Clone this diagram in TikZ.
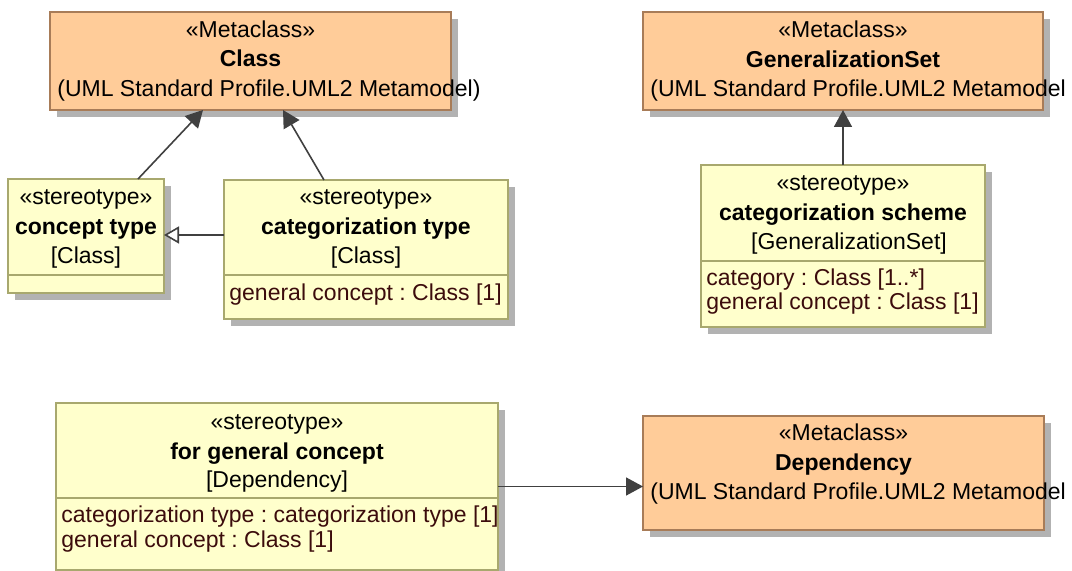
\documentclass[tikz,border=0pt]{standalone}
\usepackage{fontspec}
\setmainfont{Liberation Sans}
\frenchspacing
\usetikzlibrary{calc,positioning,arrows.meta,shadows}
\definecolor{MetaOrange}{RGB}{255,204,153}
\definecolor{MetaBorder}{RGB}{168,124,88}
\definecolor{StereoYellow}{RGB}{255,255,204}
\definecolor{StereoBorder}{RGB}{168,168,110}
\definecolor{AttrBrown}{RGB}{60,12,12}
\definecolor{LinkGray}{RGB}{64,64,64}
\tikzset{
    boxshadow/.style={general shadow={fill=black!30,shadow xshift=3.5pt,shadow yshift=-3.5pt}},
    metaclass/.style={rectangle,draw=MetaBorder,fill=MetaOrange,line width=0.8pt,inner sep=0pt,outer sep=0pt,boxshadow},
    stereotype/.style={rectangle,draw=StereoBorder,fill=StereoYellow,line width=0.8pt,inner sep=0pt,outer sep=0pt,boxshadow},
    compline/.style={StereoBorder,line width=0.8pt},
    headtext/.style={inner sep=0pt,anchor=base},
    attrtext/.style={inner sep=0pt,anchor=base west,AttrBrown},
    extension/.style={LinkGray,line width=0.8pt,-{Triangle[length=8.5pt,width=9pt]}},
    generalization/.style={LinkGray,line width=0.8pt,-{Triangle[open,length=7.5pt,width=8.5pt,fill=white]}}
}
\begin{document}
\begin{tikzpicture}[x=0.5pt,y=-0.5pt,font=\fontsize{11.5pt}{14pt}\selectfont]
\useasboundingbox (0,0) rectangle (1072,571);

				% metaclasses
				\node[metaclass,minimum width=200.5pt,minimum height=49pt] (cls) at (250.5,61) {};
				\node[metaclass,minimum width=200pt,minimum height=49pt] (gs) at (843,61) {};
				\node[metaclass,minimum width=200.5pt,minimum height=57pt] (dep) at (843.5,473) {};
				
				% stereotypes
				\node[stereotype,minimum width=78pt,minimum height=57pt] (ct) at (86,236) {};
				\node[stereotype,minimum width=142pt,minimum height=69.5pt] (cat) at (366,249.5) {};
				\node[stereotype,minimum width=142pt,minimum height=81pt] (sch) at (843,246) {};
				\node[stereotype,minimum width=221pt,minimum height=83.5pt] (gfc) at (277,486.5) {};
				
				% compartments
				\draw[compline] ($(ct.north west)+(0,96)$) -- ($(ct.north east)+(0,96)$);
				\draw[compline] ($(cat.north west)+(0,95)$) -- ($(cat.north east)+(0,95)$);
				\draw[compline] ($(sch.north west)+(0,96)$) -- ($(sch.north east)+(0,96)$);
				\draw[compline] ($(gfc.north west)+(0,95)$) -- ($(gfc.north east)+(0,95)$);
				
				% headers
				\node[headtext] (cls-st) at (250.5,38) {«Metaclass»};
				\node[headtext] (cls-nm) at (250.5,67) {\bfseries Class};
				\node[headtext,anchor=base west] (cls-pk) at (57,97) {(UML Standard Profile.UML2 Metamodel)};
				\node[headtext] (gs-st) at (843,38) {«Metaclass»};
				\node[headtext] (gs-nm) at (843,68) {\bfseries GeneralizationSet};
				\node[headtext,anchor=base west] (gs-pk) at (650,97) {(UML Standard Profile.UML2 Metamodel};
				\node[headtext] (dep-st) at (843.5,441) {«Metaclass»};
				\node[headtext] (dep-nm) at (843.5,471) {\bfseries Dependency};
				\node[headtext,anchor=base west] (dep-pk) at (650,500) {(UML Standard Profile.UML2 Metamodel};
				\node[headtext] (ct-st) at (86,205) {«stereotype»};
				\node[headtext] (ct-nm) at (86,235) {\bfseries concept type};
				\node[headtext] (ct-mc) at (86,264) {[Class]};
				\node[headtext] (cat-st) at (366,205) {«stereotype»};
				\node[headtext] (cat-nm) at (366,235) {\bfseries categorization type};
				\node[headtext] (cat-mc) at (366,264) {[Class]};
				\node[headtext] (sch-st) at (843,191) {«stereotype»};
				\node[headtext] (sch-nm) at (843,221) {\bfseries categorization scheme};
				\node[headtext] (sch-mc) at (849,250) {[GeneralizationSet]};
				\node[headtext] (gfc-st) at (277,430) {«stereotype»};
				\node[headtext] (gfc-nm) at (277,460) {\bfseries for general concept};
				\node[headtext] (gfc-mc) at (277,488) {[Dependency]};
				
				% attributes
				\node[attrtext] (cat-a1) at (229,301) {general concept : Class [1]};
				\node[attrtext] (sch-a1) at (706,286) {category : Class [1..*]};
				\node[attrtext] (sch-a2) at (706,310) {general concept : Class [1]};
				\node[attrtext] (gfc-a1) at (61,523) {categorization type : categorization type [1]};
				\node[attrtext] (gfc-a2) at (61,548) {general concept : Class [1]};
				
				% links
				\draw[extension] ($(ct.north west)+(130,0)$) -- ($(cls.south west)+(153,0)$);
				\draw[extension] ($(cat.north west)+(100,0)$) -- ($(cls.south west)+(233,0)$);
				\draw[generalization] ($(cat.north west)+(0,55)$) -- ($(ct.north east)+(0,56)$);
				\draw[extension] (sch.north) -- (gs.south);
				\draw[extension] (gfc.east) -- (gfc.east -| dep.west);
\end{tikzpicture}
\end{document}
